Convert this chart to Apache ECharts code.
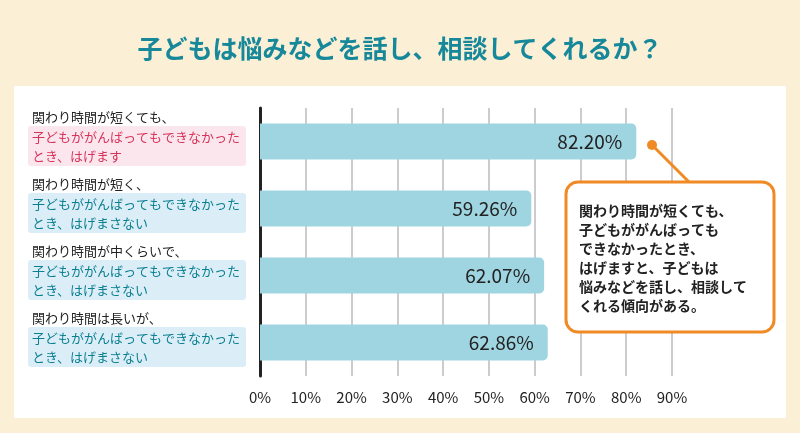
<!DOCTYPE html><html><head><meta charset="utf-8"><script src="https://cdn.jsdelivr.net/npm/echarts@6/dist/echarts.min.js"></script>
<style>body{margin:0;background:#fbefd6}#c{width:800px;height:433px}</style></head><body><div id="c"></div><script>
const categories=['関わり時間が短くても、','関わり時間が短く、','関わり時間が中くらいで、','関わり時間は長いが、'];
const subLines=[['子どもががんばってもできなかった','とき、はげます'],['子どもががんばってもできなかった','とき、はげまさない'],['子どもががんばってもできなかった','とき、はげまさない'],['子どもががんばってもできなかった','とき、はげまさない']];
const values=[82.20,59.26,62.07,62.86];
const tickLabels=['0%','10%','20%','30%','40%','50%','60%','70%','80%','90%'];
const calloutLines=['関わり時間が短くても、','子どもががんばっても','できなかったとき、','はげますと、子どもは','悩みなどを話し、相談して','くれる傾向がある。'];
const F='"Noto Sans CJK JP"';
const g=[{type:'rect',shape:{x:14,y:86,width:772,height:332},style:{fill:'#fff'},z:-1},
{type:'text',x:400,y:48,style:{text:'子どもは悩みなどを話し、相談してくれるか？',font:'bold 25px '+F,fill:'#16889a',textAlign:'center',textVerticalAlign:'middle'}}];
categories.forEach((c,i)=>{const cy=141+67*i;const pink=i===0;
g.push({type:'text',x:32,y:cy-24,style:{text:c,font:'13px '+F,fill:'#222',textVerticalAlign:'middle'}});
g.push({type:'rect',shape:{x:28,y:cy-15,width:218,height:40,r:3},style:{fill:pink?'#fce6ee':'#dbeef8'}});
subLines[i].forEach((t,j)=>g.push({type:'text',x:32,y:cy-4+19*j,style:{text:t,font:'13px '+F,fill:pink?'#d6345a':'#0a7f8f',textVerticalAlign:'middle'}}));});
g.push({type:'line',shape:{x1:652,y1:145,x2:690,y2:183},style:{stroke:'#f08a24',lineWidth:3},z:10});
g.push({type:'circle',shape:{cx:652,cy:145,r:5},style:{fill:'#f08a24'},z:10});
g.push({type:'rect',shape:{x:566,y:182,width:208,height:150,r:12},style:{fill:'#fff',stroke:'#f08a24',lineWidth:3},z:10});
calloutLines.forEach((t,j)=>g.push({type:'text',x:579,y:211+19*j,style:{text:t,font:'bold 14px '+F,fill:'#222',textVerticalAlign:'middle'},z:11}));
const ch=echarts.init(document.getElementById('c'));
ch.setOption({animation:false,backgroundColor:'#fbefd6',
grid:{left:260,right:128,top:108,bottom:57},
xAxis:{type:'value',min:0,max:90,interval:10,axisLine:{show:false},axisTick:{show:false},
axisLabel:{formatter:v=>tickLabels[v/10],fontSize:15,color:'#222',fontFamily:F,margin:14},
splitLine:{lineStyle:{color:'#bbb',width:1.5}}},
yAxis:{type:'category',inverse:true,data:categories,axisLabel:{show:false},axisTick:{show:false},axisLine:{lineStyle:{color:'#222',width:3}}},
series:[{type:'bar',data:values,barWidth:36,itemStyle:{color:'#9fd5e1',borderRadius:[0,5,5,0]},
label:{show:true,position:'insideRight',formatter:p=>p.value.toFixed(2)+'%',fontSize:19,color:'#222',fontFamily:F,distance:14},z:3}],
graphic:g});
</script></body></html>
